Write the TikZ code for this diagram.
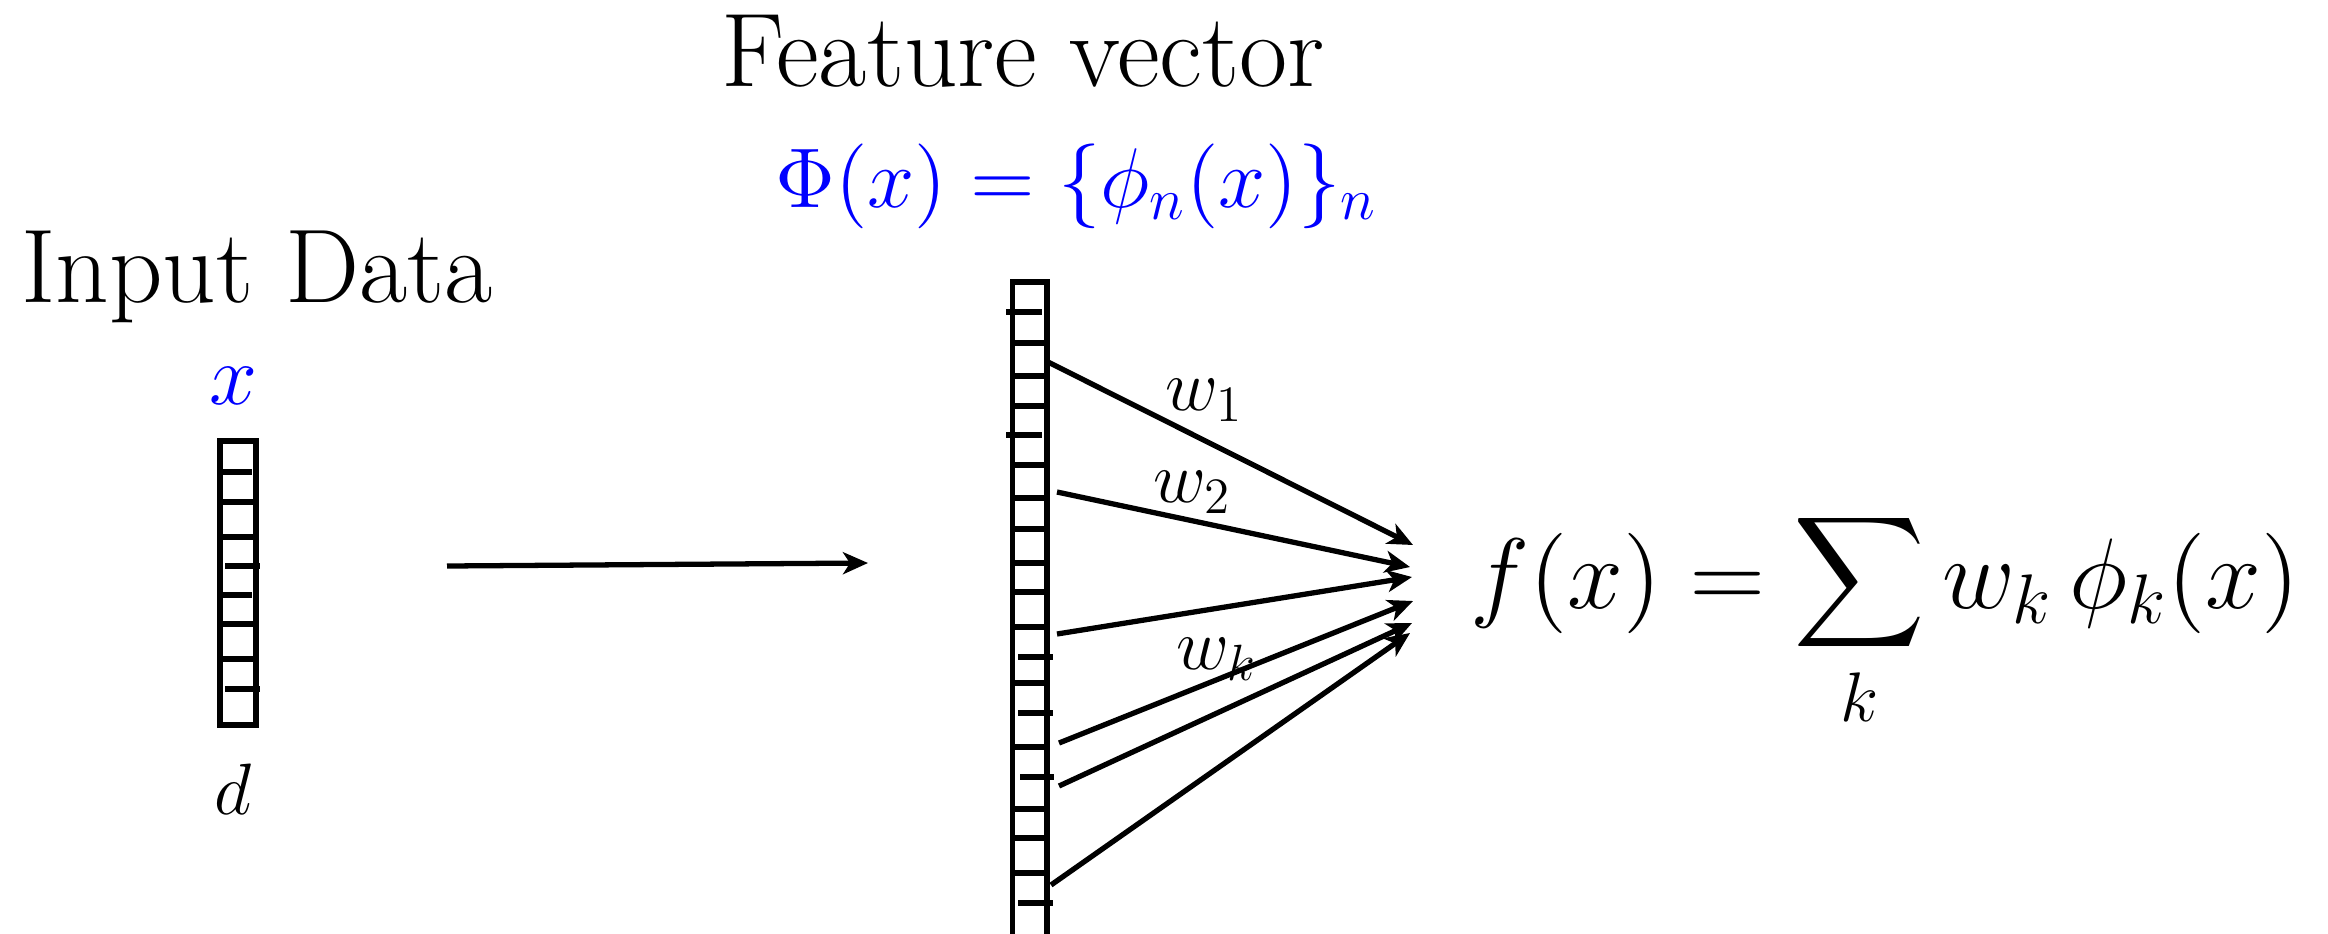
\documentclass[tikz,border=0pt]{standalone}
\usetikzlibrary{arrows.meta}
\DeclareFontFamily{OMX}{cmex}{}
\DeclareFontShape{OMX}{cmex}{m}{n}{<-> cmex10}{}
\DeclareFontShape{OML}{cmm}{m}{it}{<-6> cmmi5 <6-8> cmmi7 <8-11> cmmi10 <11-> cmmi12}{\skewchar\font'177}
\DeclareFontShape{OMS}{cmsy}{m}{n}{<-6> cmsy5 <6-8> cmsy7 <8-> cmsy10}{\skewchar\font'60}
\DeclareFontShape{OT1}{cmr}{m}{n}{<-6> cmr5 <6-8> cmr7 <8-11> cmr10 <11-> cmr12}{}
\newcommand{\bigsumop}{\mathop{\vcenter{\hbox{\fontsize{26}{30}\selectfont$\displaystyle\sum$}}}\limits}
\begin{document}
\begin{tikzpicture}[x=0.01cm,y=-0.01cm,
  vecbox/.style={draw,line width=1.6pt,inner sep=0pt,minimum width=0.36cm},
  tick/.style={line width=1.6pt},
  conn/.style={line width=1.5pt,-{Stealth[length=0.25cm,width=0.22cm,inset=0.07cm]}},
  bigtext/.style={inner sep=0pt,anchor=base,font=\fontsize{29.8}{34}\selectfont},
  lbl/.style={inner sep=0pt,anchor=center,font=\fontsize{20.7}{25}\selectfont},
  vecclr/.style={text=blue}]
\useasboundingbox (0,0) rectangle (2328,933);
% titles
\node[bigtext] (ftitle) at (1023,86) {Feature vector};
\node[bigtext,vecclr,font=\fontsize{24.1}{29}\selectfont] (phidef) at (1076,207) {$\Phi(x)=\{\phi_n(x)\}_n$};
\node[bigtext] (ititle) at (257,302) {Input Data};
\node[bigtext,vecclr,font=\fontsize{24.5}{28}\selectfont] (xlab) at (233,404) {$x$};
\node[bigtext,font=\fontsize{20.7}{25}\selectfont] (dlab) at (233,814) {$d$};
% input vector
\node[vecbox,minimum height=2.84cm] (invec) at (238,583) {};
\foreach \y/\a/\b in {472/218/252,502/222/255,537/222/255,566/225/260,595/220/252,624/222/255,659/222/255,689/225/260}
  \draw[tick] (\a,\y) -- (\b,\y);
% feature vector
\node[vecbox,minimum width=0.345cm,minimum height=6.9cm] (featvec) at (1029.75,627) {};
\foreach \y/\a/\b in {312/1006/1042,343/1012/1047,376/1012/1047,406/1012/1047,435/1006/1042,465/1012/1047,498/1012/1047,529/1012/1047,563/1012/1047,592/1012/1047,627/1012/1047,657/1018/1053,683/1012/1047,713/1018/1053,747/1012/1047,777/1020/1054,809/1010/1044,838/1012/1047,873/1012/1047,903/1018/1053}
  \draw[tick] (\a,\y) -- (\b,\y);
% main arrow
\coordinate (hs) at (447,566);
\coordinate (he) at (868,563);
\draw[conn] (hs) -- (he);
% weight arrows
\coordinate (s1) at (1048,362); \coordinate (e1) at (1413,545);
\coordinate (s2) at (1057,492); \coordinate (e2) at (1410,567);
\coordinate (s3) at (1057,634); \coordinate (e3) at (1412,577);
\coordinate (s4) at (1059,743); \coordinate (e4) at (1413,601);
\coordinate (s5) at (1059,786); \coordinate (e5) at (1412,623);
\coordinate (s6) at (1051,885); \coordinate (e6) at (1410,633);
\foreach \i in {1,...,6} \draw[conn] (s\i) -- (e\i);
\node[lbl] (w1) at (1204,400) {$w_1$};
\node[lbl] (w2) at (1192,492) {$w_2$};
\node[lbl] (wk) at (1217,659) {$w_k$};
% formula
\node[inner sep=0pt,anchor=base west,font=\fontsize{28.5}{34}\selectfont] (fx) at (1470,608) {$\displaystyle f(x) = \bigsumop_k w_k\,\phi_k(x)$};
\end{tikzpicture}
\end{document}
